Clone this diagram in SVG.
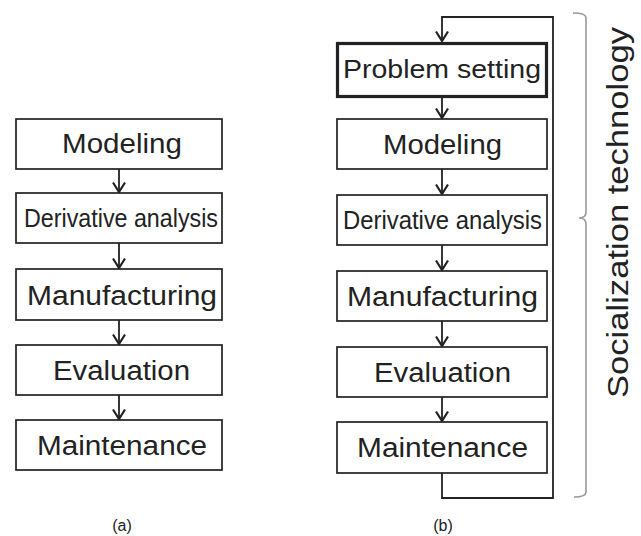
<svg xmlns="http://www.w3.org/2000/svg" width="641" height="536" viewBox="0 0 641 536">
<style>
.box{fill:#fff;stroke:#222;stroke-width:1.7}
.thick{fill:#fff;stroke:#222;stroke-width:3.2}
.t{font-family:"Liberation Sans",Arial,sans-serif;font-size:27px;fill:#222;text-anchor:middle}
.s{font-family:"Liberation Sans",Arial,sans-serif;font-size:26px;fill:#222;text-anchor:middle}
.c{font-family:"Liberation Sans",Arial,sans-serif;font-size:16px;fill:#222;text-anchor:middle}
.arr{fill:none;stroke:#222;stroke-width:1.8;marker-end:url(#ah)}
.br{fill:none;stroke:#999;stroke-width:1.6}
</style>
<defs>
<marker id="ah" markerUnits="userSpaceOnUse" viewBox="-12 -8 14 16" refX="0" refY="0" markerWidth="14" markerHeight="16" orient="auto">
<path d="M-9.5,-6 L0,0 L-9.5,6" fill="none" stroke="#222" stroke-width="2.2"/>
</marker>
</defs>
<g id="connectors">
<line class="arr" x1="119" y1="169" x2="119" y2="192"/>
<line class="arr" x1="119" y1="243" x2="119" y2="268"/>
<line class="arr" x1="119" y1="320" x2="119" y2="344"/>
<line class="arr" x1="119" y1="395" x2="119" y2="419"/>
<line class="arr" x1="442" y1="97" x2="442" y2="118"/>
<line class="arr" x1="442" y1="169" x2="442" y2="194"/>
<line class="arr" x1="442" y1="245" x2="442" y2="270"/>
<line class="arr" x1="442" y1="321" x2="442" y2="346"/>
<line class="arr" x1="442" y1="397" x2="442" y2="421"/>
<path class="arr" d="M442,473 L442,498 L553,498 L553,17 L442,17 L442,41"/>
</g>
<g id="a-modeling"><rect class="box" x="16" y="119" width="206" height="50"/><text class="t" x="122" y="153" textLength="120" lengthAdjust="spacingAndGlyphs">Modeling</text></g>
<g id="a-derivative"><rect class="box" x="16" y="193" width="206" height="50"/><text class="s" x="121" y="227" textLength="194" lengthAdjust="spacingAndGlyphs">Derivative analysis</text></g>
<g id="a-manufacturing"><rect class="box" x="16" y="269" width="206" height="51"/><text class="t" x="122" y="305" textLength="190" lengthAdjust="spacingAndGlyphs">Manufacturing</text></g>
<g id="a-evaluation"><rect class="box" x="16" y="345" width="206" height="50"/><text class="t" x="121.5" y="380" textLength="137" lengthAdjust="spacingAndGlyphs">Evaluation</text></g>
<g id="a-maintenance"><rect class="box" x="16" y="420" width="206" height="50"/><text class="t" x="122" y="455" textLength="170" lengthAdjust="spacingAndGlyphs">Maintenance</text></g>
<g id="b-problem"><rect class="thick" x="337.5" y="43.5" width="209" height="53"/><text class="s" x="442" y="78" textLength="198" lengthAdjust="spacingAndGlyphs">Problem setting</text></g>
<g id="b-modeling"><rect class="box" x="337" y="119" width="210" height="50"/><text class="t" x="442.5" y="154" textLength="119" lengthAdjust="spacingAndGlyphs">Modeling</text></g>
<g id="b-derivative"><rect class="box" x="337" y="195" width="210" height="50"/><text class="s" x="442.5" y="229" textLength="199" lengthAdjust="spacingAndGlyphs">Derivative analysis</text></g>
<g id="b-manufacturing"><rect class="box" x="337" y="271" width="210" height="50"/><text class="t" x="442.5" y="306" textLength="191" lengthAdjust="spacingAndGlyphs">Manufacturing</text></g>
<g id="b-evaluation"><rect class="box" x="337" y="347" width="210" height="50"/><text class="t" x="442.5" y="382" textLength="137" lengthAdjust="spacingAndGlyphs">Evaluation</text></g>
<g id="b-maintenance"><rect class="box" x="337" y="422" width="210" height="51"/><text class="t" x="442.5" y="457" textLength="171" lengthAdjust="spacingAndGlyphs">Maintenance</text></g>
<g id="bracket">
<path class="br" d="M573,13 Q586,13 586,18 L586,212 Q586,218 579,218 Q586,218 586,224 L586,492 Q586,497 574,497"/>
<text class="t" transform="translate(628,212.5) rotate(-90)" x="0" y="0" style="font-size:29px" textLength="371" lengthAdjust="spacingAndGlyphs">Socialization technology</text>
</g>
<g id="captions">
<text class="c" x="122" y="531">(a)</text>
<text class="c" x="443" y="531">(b)</text>
</g>
</svg>
